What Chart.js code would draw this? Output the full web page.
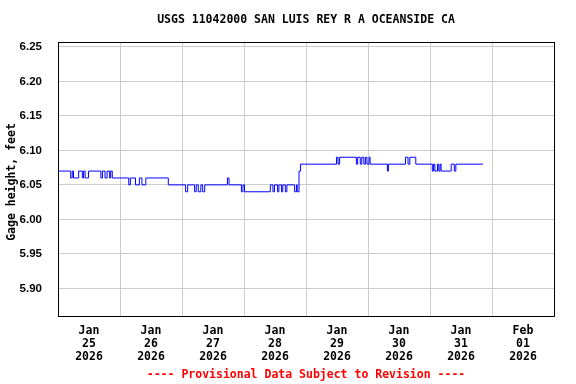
<!DOCTYPE html>
<html>
<head>
<meta charset="utf-8">
<script src="https://cdn.jsdelivr.net/npm/chart.js@4"></script>
<style>
    body { margin: 0; background: #ffffff; }
</style>
</head>
<body>
<canvas id="myChart" width="576" height="384"></canvas>
<script>
// hours since Jan 25 2026 00:00, and the gage height that starts at that hour
let hours = [0, 4.9, 5.5, 6.0, 8.0, 9.4, 9.9, 10.5, 11.8,
    16.6, 17.2, 18.2, 19.0, 20.0, 20.4, 21.0,
    27.4, 28.0, 30.0, 31.5, 32.5, 34.0,
    42.7, 49.4, 50.2, 52.9, 53.5, 54.3, 55.3, 56.0, 56.8,
    65.6, 66.2, 71.0, 71.6, 72.2,
    82.2, 83.2, 83.8, 85.0, 85.5, 86.5, 87.0, 88.0, 88.6,
    91.6, 92.3, 92.6, 93.3, 93.9,
    107.8, 108.4, 109.0, 115.5, 116.0, 117.0, 117.6, 118.4, 119.0, 119.6, 120.4, 120.8,
    127.5, 127.9, 134.5, 135.5, 136.2, 138.5,
    144.9, 145.4, 145.9, 146.9, 147.4, 147.9, 148.3, 152.2, 153.4, 154.0, 164.5]
let gage = [6.07, 6.06, 6.07, 6.06, 6.07, 6.06, 6.07, 6.06, 6.07,
    6.06, 6.07, 6.06, 6.07, 6.06, 6.07, 6.06,
    6.05, 6.06, 6.05, 6.06, 6.05, 6.06,
    6.05, 6.04, 6.05, 6.04, 6.05, 6.04, 6.05, 6.04, 6.05,
    6.06, 6.05, 6.04, 6.05, 6.04,
    6.05, 6.04, 6.05, 6.04, 6.05, 6.04, 6.05, 6.04, 6.05,
    6.04, 6.05, 6.04, 6.07, 6.08,
    6.09, 6.08, 6.09, 6.08, 6.09, 6.08, 6.09, 6.08, 6.09, 6.08, 6.09, 6.08,
    6.07, 6.08, 6.09, 6.08, 6.09, 6.08,
    6.07, 6.08, 6.07, 6.08, 6.07, 6.08, 6.07, 6.08, 6.07, 6.08, 6.08]

let tickMonths = ["Jan", "Jan", "Jan", "Jan", "Jan", "Jan", "Jan", "Feb"]
let tickDays = ["25", "26", "27", "28", "29", "30", "31", "01"]
let tickYears = ["2026", "2026", "2026", "2026", "2026", "2026", "2026", "2026"]
let yTicks = [5.90, 5.95, 6.00, 6.05, 6.10, 6.15, 6.20, 6.25]

let points = []
for (let i = 0; i < hours.length; i++) {
    points.push({ x: hours[i], y: gage[i] })
}

const fontFamily = '"DejaVu Sans Mono", monospace'
const tickFont = { family: fontFamily, size: 11.5, weight: 'bold', lineHeight: 1.13 }

// title, footer, axis title and the frame round the plot
const textPlugin = {
    id: 'usgsText',
    afterDraw(chart) {
        let c = chart.ctx
        let area = chart.chartArea
        let midX = (area.left + area.right) / 2
        c.save()
        c.strokeStyle = '#000000'
        c.lineWidth = 1
        c.strokeRect(Math.round(area.left) + 0.5, Math.round(area.top) + 0.5,
            Math.round(area.right - area.left), Math.round(area.bottom - area.top))
        c.font = 'bold 11.5px ' + fontFamily
        c.textAlign = 'center'
        c.textBaseline = 'middle'
        c.fillStyle = '#000000'
        c.fillText('USGS 11042000 SAN LUIS REY R A OCEANSIDE CA', midX, 20)
        c.fillStyle = '#ff0000'
        c.fillText('---- Provisional Data Subject to Revision ----', midX, 375)
        c.fillStyle = '#000000'
        c.translate(12, (area.top + area.bottom) / 2 + 3)
        c.rotate(-Math.PI / 2)
        c.fillText('Gage height, feet', 0, 0)
        c.restore()
    }
}

const ctx = document.getElementById('myChart')

new Chart(ctx, {
    type: 'line',
    data: {
        datasets: [{
            data: points,
            borderColor: '#0000ff',
            borderWidth: 1,
            pointRadius: 0,
            stepped: 'before',
            fill: false
        }]
    },
    options: {
        responsive: false,
        animation: false,
        devicePixelRatio: 1,
        layout: { padding: { top: 42, right: 22, left: 0, bottom: 0 } },
        plugins: {
            legend: { display: false },
            tooltip: { enabled: false }
        },
        scales: {
            x: {
                type: 'linear',
                min: 0,
                max: 192,
                afterBuildTicks: (scale) => {
                    let t = []
                    for (let v = 0; v <= 192; v += 12) t.push({ value: v })
                    scale.ticks = t
                },
                afterFit: (scale) => { scale.height = 68 },
                border: { display: false },
                grid: {
                    drawTicks: false,
                    color: (c) => (c.tick && c.tick.value % 24 === 0) ? '#cccccc' : 'rgba(0,0,0,0)'
                },
                ticks: {
                    autoSkip: false,
                    maxRotation: 0,
                    padding: 9,
                    color: '#000000',
                    font: tickFont,
                    callback: (v) => {
                        if (v % 24 !== 12) return ''
                        let i = (v - 12) / 24
                        return [tickMonths[i], tickDays[i], tickYears[i]]
                    }
                }
            },
            y: {
                min: 5.86,
                max: 6.257,
                afterBuildTicks: (scale) => {
                    scale.ticks = yTicks.map(v => ({ value: v }))
                },
                afterFit: (scale) => { scale.width = 58 },
                border: { display: false },
                grid: { drawTicks: false, color: '#cccccc' },
                ticks: {
                    padding: 16,
                    color: '#000000',
                    font: { family: '"Liberation Sans"', size: 11.5, weight: 'bold' },
                    callback: (v) => v.toFixed(2)
                }
            }
        }
    },
    plugins: [textPlugin]
})
</script>
</body>
</html>
